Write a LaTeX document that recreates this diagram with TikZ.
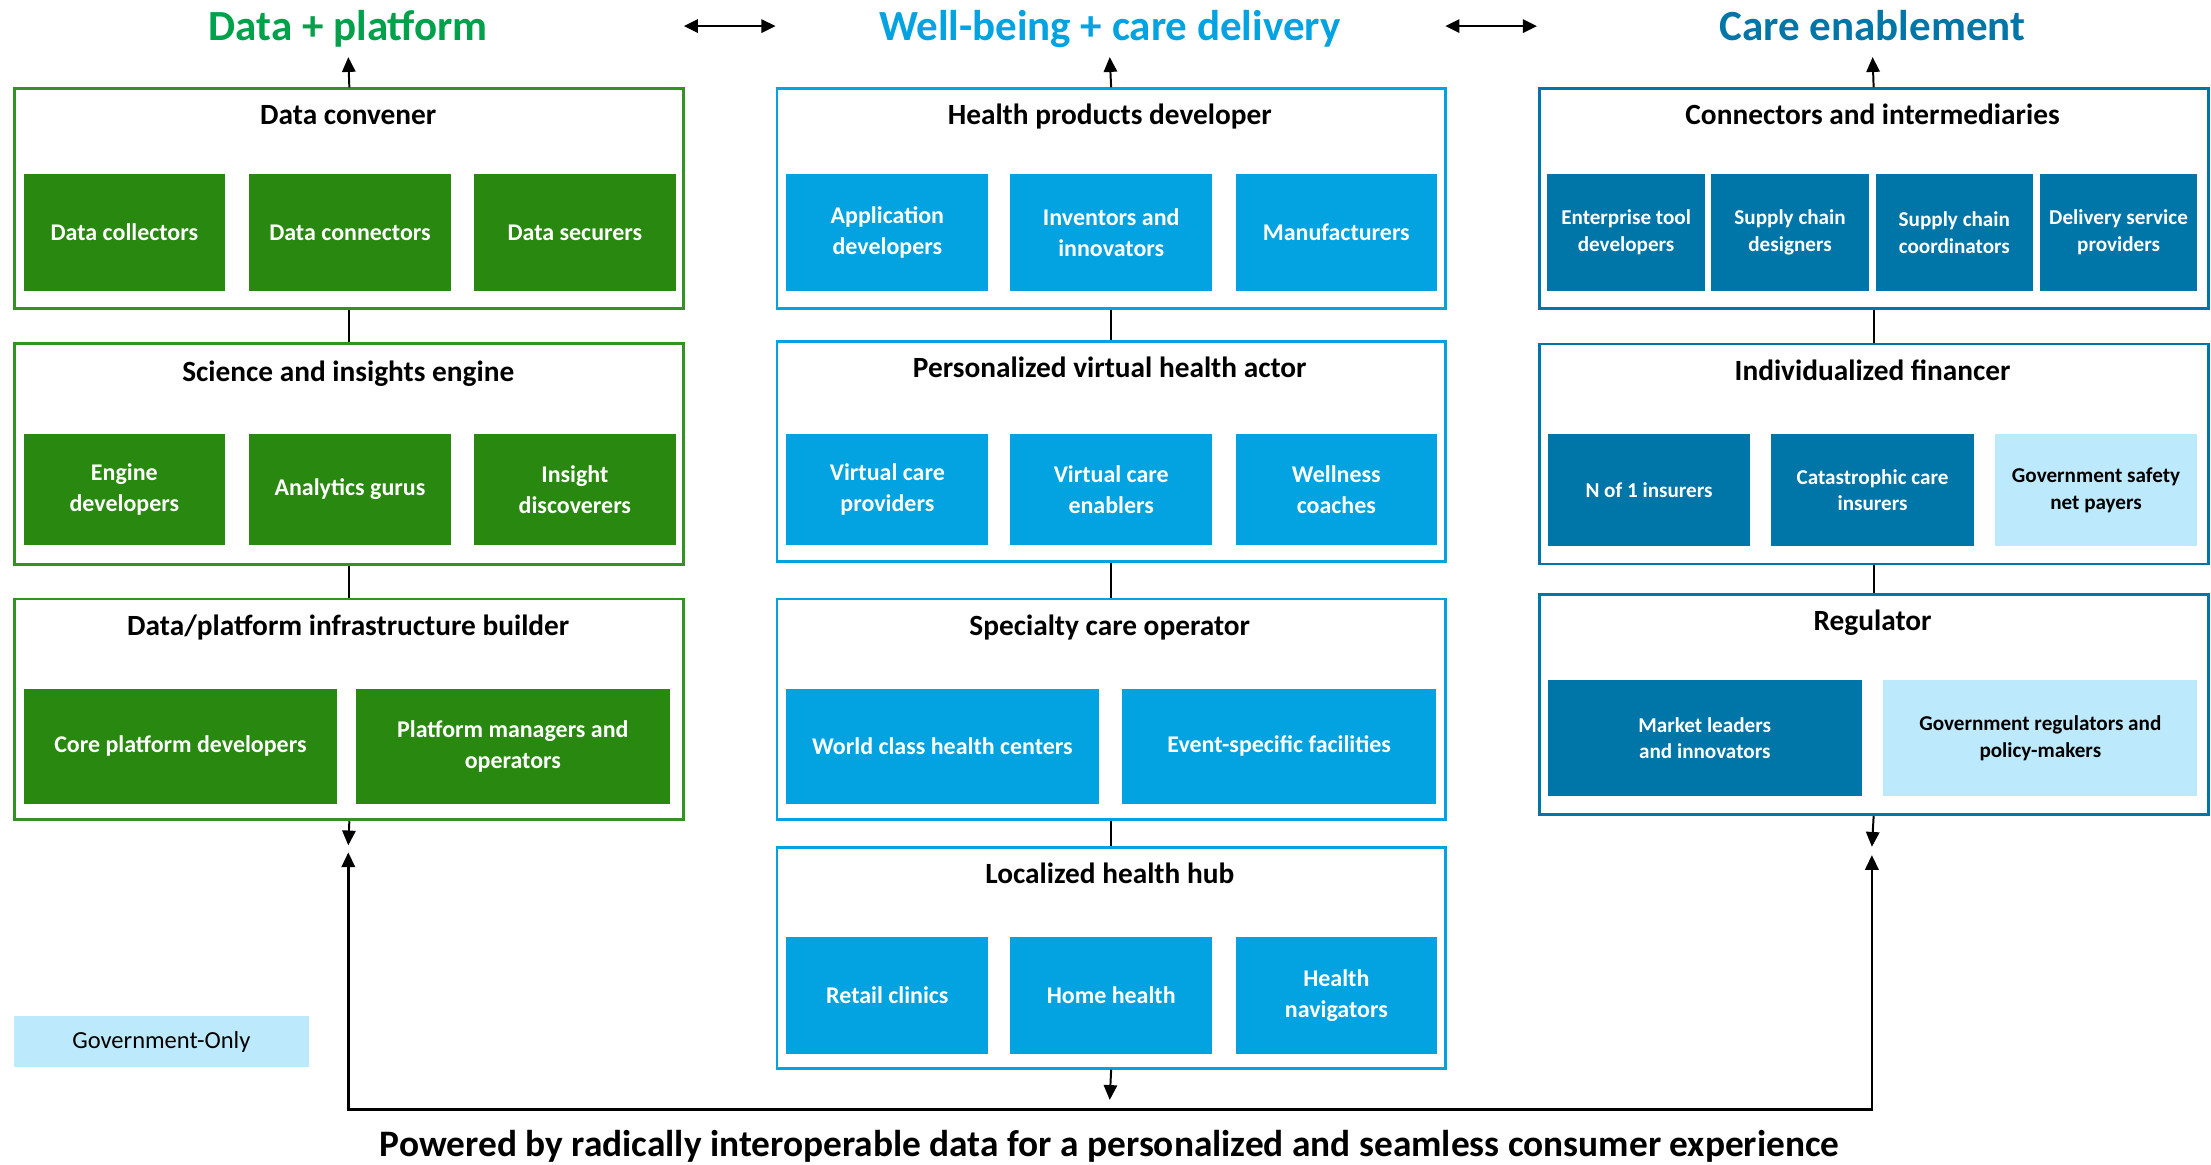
\documentclass[tikz,border=0pt]{standalone}
\usepackage{fontspec}
\setmainfont{Carlito}
\usetikzlibrary{arrows.meta}
\definecolor{gin}{RGB}{41,136,15}
\definecolor{gbd}{RGB}{52,145,35}
\definecolor{gtt}{RGB}{0,161,75}
\definecolor{cyn}{RGB}{2,163,224}
\definecolor{dbl}{RGB}{0,117,168}
\definecolor{lbl}{RGB}{189,233,252}
\begin{document}
\begin{tikzpicture}[x=1pt,y=-1pt,
  outerbox/.style={draw=#1, line width=2pt, fill=white, anchor=north west, inner sep=0pt},
  sz/.style 2 args={minimum width=#1pt, minimum height=#2pt},
  inbox/.style={fill=#1, text=white, anchor=north west, inner sep=0pt, align=center,
    font=\bfseries\fontsize{17}{22}\selectfont},
  rinbox/.style={fill=#1, text=white, anchor=north west, inner sep=0pt, align=center,
    font=\bfseries\fontsize{15}{19}\selectfont},
  hdr/.style={anchor=base, inner sep=0pt, font=\bfseries\fontsize{20.8}{24}\selectfont},
  ttl/.style={anchor=base, inner sep=0pt, text=#1, font=\bfseries\fontsize{30.5}{34}\selectfont},
  link/.style={line width=1.4pt},
  arr/.style={line width=1.4pt, -{Triangle[length=10.5pt,width=9.5pt]}},
  darr/.style={line width=1.4pt, {Triangle[length=10pt,width=9.5pt]}-{Triangle[length=10pt,width=9.5pt]}},
  barr/.style={line width=1.8pt, {Triangle[length=10.5pt,width=9.5pt]}-{Triangle[length=10.5pt,width=9.5pt]}}
]
\useasboundingbox (0,0) rectangle (1568,825.5);

% ---------- titles ----------
\node[ttl=gtt] (t1) at (247,28.6) {Data + platform};
\node[ttl=cyn] (t2) at (787,28.6) {Well-being + care delivery};
\node[ttl=dbl] (t3) at (1328,28.6) {Care enablement};
\coordinate (da1) at (485,18.5);
\coordinate (da2) at (550,18.5);
\coordinate (db1) at (1025,18.5);
\coordinate (db2) at (1090,18.5);
\draw[darr] (da1) -- (da2);
\draw[darr] (db1) -- (db2);

% ---------- left column ----------
\node[outerbox=gbd, sz={474.5}{156}] (dc) at (9.5,62) {};
\node[hdr] (dch) at (247,88.4) {Data convener};
\node[inbox=gin, sz={143}{82.5}] (dc1) at (16.5,123.5) {Data collectors};
\node[inbox=gin, sz={143}{82.5}] (dc2) at (176.5,123.5) {Data connectors};
\node[inbox=gin, sz={143}{82.5}] (dc3) at (336,123.5) {Data securers};

\node[outerbox=gbd, sz={474.5}{156.6}] (si) at (9.5,242.6) {};
\node[hdr] (sih) at (247,270.2) {Science and insights engine};
\node[inbox=gin, sz={143}{79}] (si1) at (16.5,307.5) {Engine\\developers};
\node[inbox=gin, sz={143}{79}] (si2) at (176.5,307.5) {Analytics gurus};
\node[inbox=gin, sz={143}{79}] (si3) at (336,307.5) {Insight\\discoverers};

\node[outerbox=gbd, sz={474.5}{156.6}] (ib) at (9.5,423.8) {};
\node[hdr] (ibh) at (247,450.7) {Data/platform infrastructure builder};
\node[inbox=gin, sz={222.5}{81.8}] (ib1) at (16.5,488.2) {Core platform developers};
\node[inbox=gin, sz={223}{81.8}] (ib2) at (252,488.2) {Platform managers and\\operators};

% ---------- middle column ----------
\node[outerbox=cyn, sz={474}{156}] (hp) at (550,62) {};
\node[hdr] (hph) at (787,88.4) {Health products developer};
\node[inbox=cyn, sz={143.4}{82.5}] (hp1) at (557.4,123.5) {Application\\developers};
\node[inbox=cyn, sz={143.1}{82.5}] (hp2) at (716.3,123.5) {Inventors and\\innovators};
\node[inbox=cyn, sz={143}{82.5}] (hp3) at (876,123.5) {Manufacturers};

\node[outerbox=cyn, sz={474}{156.3}] (pv) at (550,241) {};
\node[hdr] (pvh) at (787,267.4) {Personalized virtual health actor};
\node[inbox=cyn, sz={143.4}{79}] (pv1) at (557.4,307.5) {Virtual care\\providers};
\node[inbox=cyn, sz={143.1}{79}] (pv2) at (716.3,307.5) {Virtual care\\enablers};
\node[inbox=cyn, sz={143}{79}] (pv3) at (876,307.5) {Wellness\\coaches};

\node[outerbox=cyn, sz={474}{156.6}] (sc) at (550,423.8) {};
\node[hdr] (sch) at (787,450.9) {Specialty care operator};
\node[inbox=cyn, sz={222.3}{81.8}] (sc1) at (557,488.2) {World class health centers};
\node[inbox=cyn, sz={222.4}{81.8}] (sc2) at (795.8,488.2) {Event-specific facilities};

\node[outerbox=cyn, sz={474}{156.7}] (lh) at (550,599.8) {};
\node[hdr] (lhh) at (787,626.3) {Localized health hub};
\node[inbox=cyn, sz={143.4}{82.8}] (lh1) at (557.4,664.5) {Retail clinics};
\node[inbox=cyn, sz={143.1}{82.8}] (lh2) at (716.3,664.5) {Home health};
\node[inbox=cyn, sz={143}{82.8}] (lh3) at (876,664.5) {Health\\navigators};

% ---------- right column ----------
\node[outerbox=dbl, sz={474.5}{156}] (ci) at (1090.5,62) {};
\node[hdr] (cih) at (1328,88.4) {Connectors and intermediaries};
\node[rinbox=dbl, sz={112}{82.5}] (ci1) at (1097,123.5) {Enterprise tool\\developers};
\node[rinbox=dbl, sz={111.5}{82.5}] (ci2) at (1213.5,123.5) {Supply chain\\designers};
\node[rinbox=dbl, sz={111.5}{82.5}] (ci3) at (1330,123.5) {Supply chain\\coordinators};
\node[rinbox=dbl, sz={111.5}{82.5}] (ci4) at (1446.5,123.5) {Delivery service\\providers};

\node[outerbox=dbl, sz={474.5}{156}] (fi) at (1090.5,243) {};
\node[hdr] (fih) at (1328,270) {Individualized financer};
\node[rinbox=dbl, sz={143.5}{79.2}] (fi1) at (1097.5,307.8) {N of 1 insurers};
\node[rinbox=dbl, sz={143.5}{79.2}] (fi2) at (1256,307.8) {Catastrophic care\\insurers};
\node[rinbox=lbl, text=black, sz={143.5}{79.2}] (fi3) at (1414.5,307.8) {Government safety\\net payers};

\node[outerbox=dbl, sz={474.5}{156}] (rg) at (1090.5,420.8) {};
\node[hdr] (rgh) at (1328,447.4) {Regulator};
\node[rinbox=dbl, sz={222.5}{82}] (rg1) at (1097.5,482.3) {Market leaders\\and innovators};
\node[rinbox=lbl, text=black, sz={222.5}{82}] (rg2) at (1335.5,482.3) {Government regulators and\\policy-makers};

% ---------- legend ----------
\node[fill=lbl, anchor=north west, inner sep=0pt, sz={209.5}{36},
  font=\fontsize{17.4}{20}\selectfont] (gov) at (9.5,720.6) {Government-Only};

% ---------- connectors ----------
\coordinate (up1) at (247,40.5);
\coordinate (up2) at (787,40.5);
\coordinate (up3) at (1328,40.5);
\draw[arr] (dc.north) -- (up1);
\draw[arr] (hp.north) -- (up2);
\draw[arr] (ci.north) -- (up3);

\draw[link] (dc.south) -- (si.north);
\draw[link] (si.south) -- (ib.north);
\draw[link] (hp.south) -- (pv.north);
\draw[link] (pv.south) -- (sc.north);
\draw[link] (sc.south) -- (lh.north);
\draw[link] (ci.south) -- (fi.north);
\draw[link] (fi.south) -- (rg.north);

\coordinate (ldn) at (247,599.5);
\coordinate (rdn) at (1327.5,600.5);
\coordinate (mdn) at (787,780);
\draw[arr] (ib.south) -- (ldn);
\draw[arr] (rg.south) -- (rdn);
\draw[arr] (lh.south) -- (mdn);

\coordinate (lup) at (247,604.5);
\coordinate (rup) at (1327.5,606.4);
\coordinate (bl) at (247,786.7);
\coordinate (br) at (1327.5,786.7);
\draw[barr] (lup) -- (bl) -- (br) -- (rup);

% ---------- footer ----------
\node[anchor=base, inner sep=0pt, font=\bfseries\fontsize{26.5}{30}\selectfont] (foot) at (787,819.9)
  {Powered by radically interoperable data for a personalized and seamless consumer experience};
\end{tikzpicture}
\end{document}
